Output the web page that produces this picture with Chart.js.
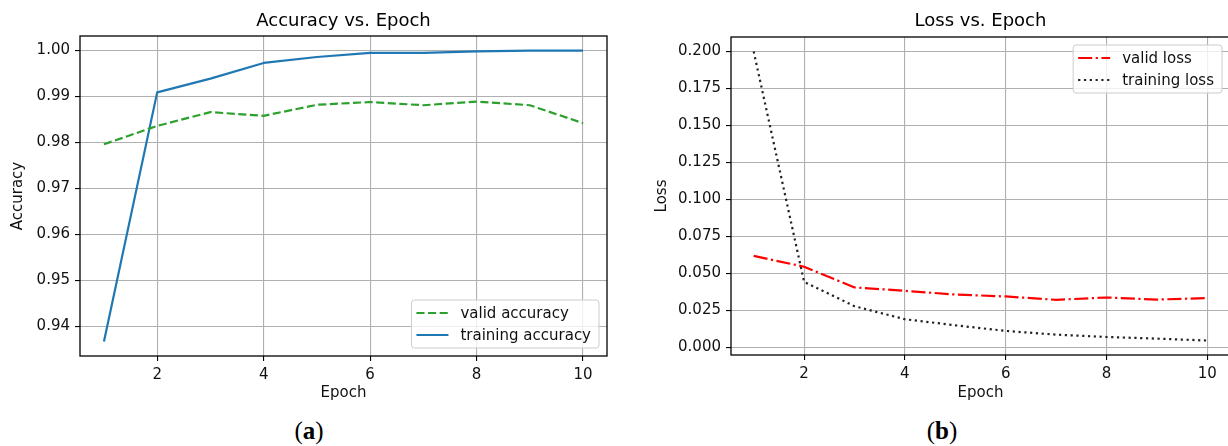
<!DOCTYPE html>
<html lang="en">
<head>
<meta charset="UTF-8">
<title>Accuracy and Loss vs. Epoch</title>
<script src="https://cdn.jsdelivr.net/npm/chart.js@4"></script>
<style>
  body { margin: 0; background: #fff; width: 1228px; height: 446px; position: relative; overflow: hidden; }
  canvas { position: absolute; top: 0; }
  #accChart { left: 0; }
  #lossChart { left: 614px; }
  .caption { position: absolute; top: 417px; font-family: "Liberation Serif", serif; font-size: 25px; color: #000; transform: translateX(-50%); }
</style>
</head>
<body>
<canvas id="accChart" width="614" height="410"></canvas>
<!-- a bit wider than its half so the right spine falls just off the page, as in the original -->
<canvas id="lossChart" width="616" height="410"></canvas>
<div class="caption" style="left:309px">(<b>a</b>)</div>
<div class="caption" style="left:942px">(<b>b</b>)</div>
<script>
// values
const epochs = [1, 2, 3, 4, 5, 6, 7, 8, 9, 10];
const validAccuracy    = [0.9796, 0.9836, 0.9866, 0.9858, 0.9882, 0.9888, 0.9881, 0.9889, 0.9881, 0.9842];
const trainingAccuracy = [0.9367, 0.9909, 0.9939, 0.9973, 0.9986, 0.9995, 0.9995, 0.9998, 1.0000, 1.0000];
const validLoss    = [0.0618, 0.0545, 0.0405, 0.0382, 0.0357, 0.0344, 0.0321, 0.0337, 0.0323, 0.0333];
const trainingLoss = [0.2000, 0.0443, 0.0278, 0.0190, 0.0149, 0.0111, 0.0086, 0.0070, 0.0059, 0.0046];

const epochTicks = [2, 4, 6, 8, 10];
const accuracyTicks = [0.94, 0.95, 0.96, 0.97, 0.98, 0.99, 1.00];
const lossTicks = [0, 0.025, 0.05, 0.075, 0.1, 0.125, 0.15, 0.175, 0.2];

const FONT = '"DejaVu Sans", sans-serif';
const LW = 2.2;

function points(vals) {
    return epochs.map((e, i) => ({ x: e, y: vals[i] }));
}

// matplotlib style autoscale margins (5%)
function range(vals) {
    const lo = Math.min(...vals), hi = Math.max(...vals);
    const m = (hi - lo) * 0.05;
    return [lo - m, hi + m];
}

// title over the plot area, black frame and legend box inside the axes
const mplBits = {
    id: 'mplBits',
    afterDatasetsDraw(chart, args, opts) {
        const ctx = chart.ctx;
        const a = chart.chartArea;
        ctx.save();

        ctx.strokeStyle = '#000';
        ctx.lineWidth = 1.3;
        ctx.strokeRect(a.left, a.top, a.right - a.left, a.bottom - a.top);

        ctx.fillStyle = '#000';
        ctx.font = '18px ' + FONT;
        ctx.textAlign = 'center';
        ctx.textBaseline = 'middle';
        ctx.fillText(opts.title, (a.left + a.right) / 2, 21);

        // legend
        ctx.font = '15px ' + FONT;
        const items = chart.data.datasets;
        const textW = Math.max(...items.map(d => ctx.measureText(d.label).width));
        const padL = 5, handle = 32, gap = 12, padR = 8, rowH = 22, padT = 13;
        const w = padL + handle + gap + textW + padR;
        const h = padT * 2 + rowH * (items.length - 1);
        const x = a.right - 8 - w;
        const y = opts.legendAt === 'lower' ? a.bottom - 8 - h : a.top + 8;

        ctx.beginPath();
        ctx.roundRect(x, y, w, h, 3);
        ctx.fillStyle = 'rgba(255,255,255,0.8)';
        ctx.fill();
        ctx.strokeStyle = '#cccccc';
        ctx.lineWidth = 1;
        ctx.stroke();

        items.forEach((d, i) => {
            const cy = y + padT + i * rowH;
            ctx.beginPath();
            ctx.setLineDash(d.borderDash || []);
            ctx.strokeStyle = d.borderColor;
            ctx.lineWidth = d.borderWidth;
            ctx.moveTo(x + padL, cy);
            ctx.lineTo(x + padL + handle, cy);
            ctx.stroke();
            ctx.setLineDash([]);
            ctx.fillStyle = '#111';
            ctx.textAlign = 'left';
            ctx.textBaseline = 'middle';
            ctx.fillText(d.label, x + padL + handle + gap, cy + 1);
        });
        ctx.restore();
    }
};

function makeChart(id, cfg) {
    const xr = range(epochs);
    const yr = range(cfg.datasets.flatMap(d => d.values));
    return new Chart(document.getElementById(id), {
        type: 'line',
        data: {
            datasets: cfg.datasets.map(d => ({
                label: d.label,
                data: points(d.values),
                borderColor: d.color,
                borderDash: d.dash,
                borderWidth: LW,
                pointRadius: 0,
                tension: 0,
                borderJoinStyle: 'round'
            }))
        },
        plugins: [mplBits],
        options: {
            responsive: false,
            animation: false,
            layout: { padding: cfg.padding },
            plugins: {
                legend: { display: false },
                tooltip: { enabled: false },
                mplBits: { title: cfg.title, legendAt: cfg.legendAt }
            },
            scales: {
                x: {
                    type: 'linear',
                    min: xr[0],
                    max: xr[1],
                    afterBuildTicks: s => { s.ticks = epochTicks.map(v => ({ value: v })); },
                    afterFit: s => { s.height = cfg.xHeight; },
                    ticks: { font: { family: FONT, size: 15 }, color: '#111', padding: 5 },
                    grid: { color: '#b0b0b0', lineWidth: 1.1, tickColor: '#000', tickLength: 5, tickWidth: 1.1 },
                    border: { display: false },
                    title: { display: true, text: 'Epoch', font: { family: FONT, size: 15 }, color: '#111', padding: { top: 0, bottom: 8 } }
                },
                y: {
                    type: 'linear',
                    min: yr[0],
                    max: yr[1],
                    afterBuildTicks: s => { s.ticks = cfg.yTicks.map(v => ({ value: v })); },
                    afterFit: s => { s.width = cfg.yWidth; },
                    ticks: { font: { family: FONT, size: 15 }, color: '#111', padding: 5, callback: v => v.toFixed(cfg.decimals) },
                    grid: { color: '#b0b0b0', lineWidth: 1.1, tickColor: '#000', tickLength: 5, tickWidth: 1.1 },
                    border: { display: false },
                    title: { display: true, text: cfg.yTitle, font: { family: FONT, size: 15 }, color: '#111', padding: { top: cfg.yTitlePad, bottom: 0 } }
                }
            }
        }
    });
}

makeChart('accChart', {
    title: 'Accuracy vs. Epoch',
    yTitle: 'Accuracy',
    yTicks: accuracyTicks,
    decimals: 2,
    yWidth: 80,
    yTitlePad: 9,
    xHeight: 54,
    padding: { top: 36, right: 7, left: 0, bottom: 0 },
    legendAt: 'lower',
    datasets: [
        { label: 'valid accuracy', values: validAccuracy, color: '#2ca02c', dash: [8.1, 3.5] },
        { label: 'training accuracy', values: trainingAccuracy, color: '#1f77b4', dash: [] }
    ]
});

makeChart('lossChart', {
    title: 'Loss vs. Epoch',
    yTitle: 'Loss',
    yTicks: lossTicks,
    decimals: 3,
    yWidth: 117,
    yTitlePad: 39,
    xHeight: 55,
    padding: { top: 37, right: 0, left: 0, bottom: 0 },
    legendAt: 'upper',
    datasets: [
        { label: 'valid loss', values: validLoss, color: '#ff0000', dash: [14.1, 3.5, 2.2, 3.5] },
        { label: 'training loss', values: trainingLoss, color: '#222222', dash: [2.2, 3.6] }
    ]
});
</script>
</body>
</html>
